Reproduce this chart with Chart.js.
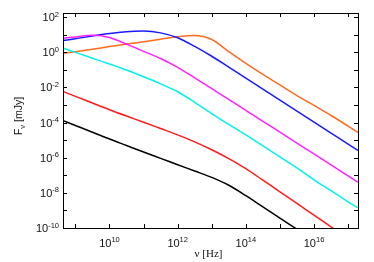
<!DOCTYPE html>
<html>
<head>
<meta charset="utf-8">
<script src="https://cdn.jsdelivr.net/npm/chart.js@4/dist/chart.umd.min.js"></script>
<style>
  html, body { margin: 0; padding: 0; background: #fff; }
</style>
</head>
<body>
<canvas id="sed" width="374" height="262"></canvas>
<script>
// frequency grid, log10(nu / Hz)
const logNu = [8.64, 9, 9.5, 10, 10.5, 11, 11.5, 12, 12.5, 13, 13.5, 14, 14.5, 15, 15.5, 16, 16.5, 17, 17.29]

// log10(F_nu / mJy) for each curve
const orangeLog  = [-0.06, 0.03, 0.17, 0.32, 0.46, 0.60, 0.74, 0.88, 0.95, 0.72, 0.03, -0.63, -1.26, -1.86, -2.47, -3.03, -3.60, -4.20, -4.57]
const blueLog    = [0.66, 0.77, 0.92, 1.06, 1.17, 1.20, 1.10, 0.82, 0.33, -0.23, -0.85, -1.48, -2.10, -2.73, -3.35, -3.98, -4.60, -5.23, -5.59]
const magentaLog = [0.80, 0.87, 0.96, 0.84, 0.46, 0.05, -0.36, -0.86, -1.46, -2.07, -2.69, -3.31, -3.93, -4.55, -5.17, -5.79, -6.41, -7.03, -7.39]
const cyanLog    = [0.23, -0.01, -0.34, -0.67, -1.01, -1.40, -1.80, -2.25, -2.85, -3.49, -4.11, -4.70, -5.33, -5.95, -6.58, -7.26, -7.88, -8.51, -8.86]
const redLog     = [-2.24, -2.51, -2.89, -3.27, -3.63, -3.98, -4.34, -4.70, -5.10, -5.55, -6.05, -6.62, -7.28, -7.94, -8.60, -9.27, -9.93, -10.59, -10.97]
const blackLog   = [-3.89, -4.17, -4.55, -4.94, -5.31, -5.68, -6.04, -6.40, -6.76, -7.12, -7.57, -8.16, -8.80, -9.44, -10.07, -10.70, -11.34, -11.97, -12.34]

// tick positions (decades) and which ones get a label
const xTickExps = [9, 10, 11, 12, 13, 14, 15, 16, 17]
const xLabelExps = [10, 12, 14, 16]
const yTickExps = [-10, -9, -8, -7, -6, -5, -4, -3, -2, -1, 0, 1, 2]
const yLabelExps = [-10, -8, -6, -4, -2, 0, 2]

const toPoints = arr => logNu.map((e, i) => ({ x: Math.pow(10, e), y: Math.pow(10, arr[i]) }))

const series = [
  { data: blackLog, color: '#000000' },
  { data: redLog, color: '#ff1a1a' },
  { data: cyanLog, color: '#00f0f0' },
  { data: magentaLog, color: '#ff20ff' },
  { data: blueLog, color: '#1a1aff' },
  { data: orangeLog, color: '#ff6a1f' },
]

const BASE_FONT = '11px "Liberation Sans", Arial, sans-serif'
const EXP_FONT = '7.5px "Liberation Sans", Arial, sans-serif'
const TITLE_FONT = '10.5px "Liberation Sans", Arial, sans-serif'

function drawPow(ctx, exp, x, y, align) {
  ctx.font = BASE_FONT
  const wb = ctx.measureText('10').width
  ctx.font = EXP_FONT
  const we = ctx.measureText(String(exp)).width
  const x0 = align === 'center' ? x - (wb + we) / 2 : x - wb - we
  ctx.font = BASE_FONT
  ctx.fillText('10', x0, y)
  ctx.font = EXP_FONT
  ctx.fillText(String(exp), x0 + wb, y - 4.5)
}

// gnuplot style frame: full box, inward mirrored ticks, 10^n labels, axis titles
const frame = {
  id: 'frame',
  afterDatasetsDraw(chart) {
    const { ctx, chartArea: a, scales: { x, y } } = chart
    ctx.save()
    ctx.strokeStyle = '#000'
    ctx.lineWidth = 1
    ctx.strokeRect(Math.round(a.left) + 0.5, Math.round(a.top) + 0.5,
      Math.round(a.right - a.left), Math.round(a.bottom - a.top))

    ctx.beginPath()
    x.ticks.forEach(t => {
      const px = Math.round(x.getPixelForValue(t.value)) + 0.5
      ctx.moveTo(px, a.bottom); ctx.lineTo(px, a.bottom - 4)
      ctx.moveTo(px, a.top); ctx.lineTo(px, a.top + 4)
    })
    y.ticks.forEach(t => {
      const py = Math.round(y.getPixelForValue(t.value)) + 0.5
      ctx.moveTo(a.left, py); ctx.lineTo(a.left + 4, py)
      ctx.moveTo(a.right, py); ctx.lineTo(a.right - 4, py)
    })
    ctx.stroke()

    ctx.fillStyle = '#111'
    ctx.textAlign = 'left'
    ctx.textBaseline = 'alphabetic'
    xLabelExps.forEach(e => drawPow(ctx, e, x.getPixelForValue(Math.pow(10, e)), a.bottom + 18.5, 'center'))
    yLabelExps.forEach(e => drawPow(ctx, e, a.left - 4, y.getPixelForValue(Math.pow(10, e)) + 4, 'right'))

    // x title
    ctx.font = '11px "Liberation Serif", "Times New Roman", serif'
    ctx.textAlign = 'center'
    ctx.fillText('\u03bd [Hz]', (a.left + a.right) / 2 - 2, 257)

    // y title, rotated, with subscript nu
    ctx.translate(22, 116)
    ctx.rotate(-Math.PI / 2)
    ctx.textAlign = 'left'
    ctx.font = TITLE_FONT
    const wF = ctx.measureText('F').width
    const wRest = ctx.measureText(' [mJy]').width
    ctx.font = EXP_FONT
    const wNu = ctx.measureText('\u03bd').width
    const x0 = -(wF + wNu + wRest) / 2
    ctx.font = TITLE_FONT
    ctx.fillText('F', x0, 0)
    ctx.font = EXP_FONT
    ctx.fillText('\u03bd', x0 + wF, 2.5)
    ctx.font = TITLE_FONT
    ctx.fillText(' [mJy]', x0 + wF + wNu, 0)
    ctx.restore()
  }
}

new Chart(document.getElementById('sed'), {
  type: 'line',
  data: {
    datasets: series.map(s => ({
      data: toPoints(s.data),
      borderColor: s.color,
      borderWidth: 1.5,
      pointRadius: 0,
      cubicInterpolationMode: 'monotone',
      fill: false,
    })),
  },
  options: {
    responsive: false,
    animation: false,
    devicePixelRatio: 1,
    layout: { padding: { top: 13, right: 16, left: 0, bottom: 0 } },
    plugins: { legend: { display: false }, tooltip: { enabled: false } },
    scales: {
      x: {
        type: 'logarithmic',
        min: Math.pow(10, 8.636),
        max: Math.pow(10, 17.29),
        grid: { display: false },
        border: { display: false },
        ticks: { display: false },
        afterBuildTicks: s => { s.ticks = xTickExps.map(e => ({ value: Math.pow(10, e) })) },
        afterFit: s => { s.height = 34 },
      },
      y: {
        type: 'logarithmic',
        min: 1e-10,
        max: Math.pow(10, 2.23),
        grid: { display: false },
        border: { display: false },
        ticks: { display: false },
        afterBuildTicks: s => { s.ticks = yTickExps.map(e => ({ value: Math.pow(10, e) })) },
        afterFit: s => { s.width = 63 },
      },
    },
  },
  plugins: [frame],
})
</script>
</body>
</html>
